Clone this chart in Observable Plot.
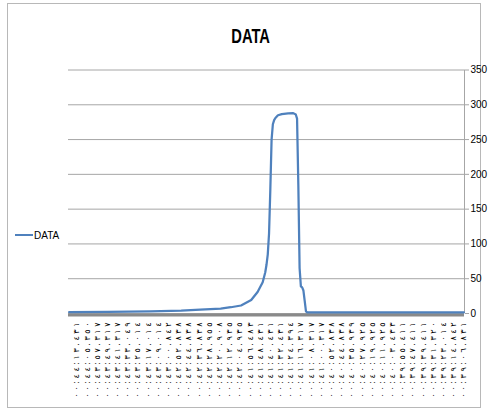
<!DOCTYPE html>
<html>
<head>
<meta charset="utf-8">
<script src="https://cdn.jsdelivr.net/npm/d3@7"></script>
<script src="https://cdn.jsdelivr.net/npm/@observablehq/plot@0.6"></script>
<style>
  html, body { margin: 0; padding: 0; background: #fff; }
  #page { position: relative; width: 488px; height: 412px; overflow: hidden; background: #fff; }
  #border { position: absolute; left: 7px; top: 3px; width: 474px; height: 405px; border: 1px solid #b8b8b8; box-sizing: border-box; }
  #chart { position: absolute; left: 0; top: 0; }
  #title { position: absolute; left: 0; top: 25px; width: 501px; text-align: center; line-height: 21px; }
  #title span { display: inline-block; font-family: "Liberation Sans Narrow", "Liberation Sans", sans-serif; font-weight: bold; font-size: 21px; color: #000; transform: scaleX(0.7); transform-origin: center; }
  #legend { position: absolute; left: 15px; top: 229px; height: 12px; display: flex; align-items: center; font-family: "Liberation Sans Narrow", "Liberation Sans", sans-serif; font-size: 10px; color: #000; }
  #legend .sw { width: 18px; height: 2.5px; background: #4F81BD; margin-right: 1px; }
</style>
</head>
<body>
<div id="page">
  <div id="border"></div>
  <div id="chart"></div>
  <div id="title"><span>DATA</span></div>
  <div id="legend"><div class="sw"></div><span>DATA</span></div>
</div>
<script>
// category index of each reading (index 0 = first sample, drawn at the right)
const sampleIndex = [310, 280, 246, 222, 207, 191, 183, 175, 167, 162, 158, 156, 155, 154, 153, 152, 151, 150, 149, 148, 146, 143, 138, 134, 132, 131, 130, 129, 128, 127, 126, 125, 124, 123, 0];
const dataValues  = [1.8, 2.2, 3, 4, 5.5, 7, 9, 11.5, 19.5, 31, 45, 59, 70, 85, 115, 178, 250, 272, 278, 281, 285, 286.5, 287.5, 288, 286, 280, 185, 65, 39, 37.5, 33, 18, 3, 1.5, 1.5];

// x tick labels, left to right
const tickLabels = [
  "٠٠:٤٤:١٣.٤٣١", "٠٠:٤٤:٠٥.٣٥٠", "٠٠:٤٣:٥٧.٣١٧", "٠٠:٤٣:٤٩.٣١٧", "٠٠:٤٣:٤١.٣١٧",
  "٠٠:٤٣:٣٣.٠٤٩", "٠٠:٤٣:٢٥.٠١٤", "٠٠:٤٣:١٧.٠١٤", "٠٠:٤٣:٠٩.٠١٤", "٠٠:٤٣:٠٠.٨٤٢",
  "٠٠:٤٢:٥٢.٨٣٨", "٠٠:٤٢:٤٤.٨٣٨", "٠٠:٤٢:٣٦.٨٣٨", "٠٠:٤٢:٢٨.٩٥٥", "٠٠:٤٢:٢٠.٩٠٨",
  "٠٠:٤٢:١٢.٩٣٥", "٠٠:٤٢:٠٤.٩٣٥", "٠٠:٤١:٥٦.٤٨٣", "٠٠:٤١:٤٨.٤٣١", "٠٠:٤١:٤٠.٤٣١",
  "٠٠:٤١:٣٢.٤٣١", "٠٠:٤١:٢٤.٣٩٤", "٠٠:٤١:١٦.٣١٧", "٠٠:٤١:٠٨.٣١٧", "٠٠:٤١:٠٠.٣١٧",
  "٠٠:٤٠:٥٢.٨٣٨", "٠٠:٤٠:٤٤.٨٣٨", "٠٠:٤٠:٣٥.٩٣٩", "٠٠:٤٠:٢٧.٩٢٥", "٠٠:٤٠:١٩.٩٢٥",
  "٠٠:٤٠:١١.٩٢٥", "٠٠:٤٠:٠٣.٤٣٣", "٠٠:٣٩:٥٥.٤١١", "٠٠:٣٩:٤٧.٤١١", "٠٠:٣٩:٣٩.٤١١",
  "٠٠:٣٩:٣١.٣٢٠", "٠٠:٣٩:٢٣.٠١٤", "٠٠:٣٩:١٤.٨٤٢", "٠٠:٣٩:٠٦.٨٣١"
];
const labelStep = 8;          // one label every 8 categories
const categoryCount = 311;    // categories on the axis
const yTicks = [0, 50, 100, 150, 200, 250, 300, 350];

const data = sampleIndex.map((i, k) => ({i, v: dataValues[k]}));
const tickIndex = tickLabels.map((_, k) => (tickLabels.length - 1 - k) * labelStep);
const labelOf = new Map(tickIndex.map((i, k) => [i, tickLabels[k]]));
const xDomain = [categoryCount - 0.5, -0.5];

const chart = Plot.plot({
  width: 488,
  height: 412,
  marginLeft: 68,
  marginRight: 24,
  marginTop: 69.5,
  marginBottom: 99,
  style: {background: "transparent", fontFamily: "'Liberation Sans Narrow', 'Liberation Sans', sans-serif", overflow: "visible"},
  x: {type: "linear", domain: xDomain},
  y: {domain: [0, 350]},
  marks: [
    Plot.gridY(yTicks, {stroke: "#a6a6a6", strokeOpacity: 1, strokeWidth: 1}),
    Plot.ruleX([xDomain[1]], {stroke: "#a6a6a6", strokeWidth: 1}),
    Plot.axisY({anchor: "right", ticks: yTicks, tickSize: 4, tickPadding: 2, stroke: "#a6a6a6", strokeOpacity: 1, fontSize: 10, fill: "#000", label: null}),
    Plot.ruleY([0], {stroke: "#8a8a8a", strokeWidth: 3, dy: 1.5}),
    Plot.line(data, {x: "i", y: "v", stroke: "#4F81BD", strokeWidth: 2.25, strokeLinejoin: "round"}),
    Plot.axisX({
      ticks: tickIndex,
      tickFormat: i => labelOf.get(i),
      tickRotate: -90,
      tickSize: 0,
      tickPadding: 9,
      fontSize: 8,
      fill: "#000",
      fontFamily: "DejaVu Sans",
      label: null
    })
  ]
});
document.getElementById("chart").appendChild(chart);
chart.querySelectorAll('g[aria-label="x-axis tick label"] text').forEach(t => {
  t.setAttribute("textLength", "75");
  t.setAttribute("lengthAdjust", "spacing");
});
</script>
</body>
</html>
